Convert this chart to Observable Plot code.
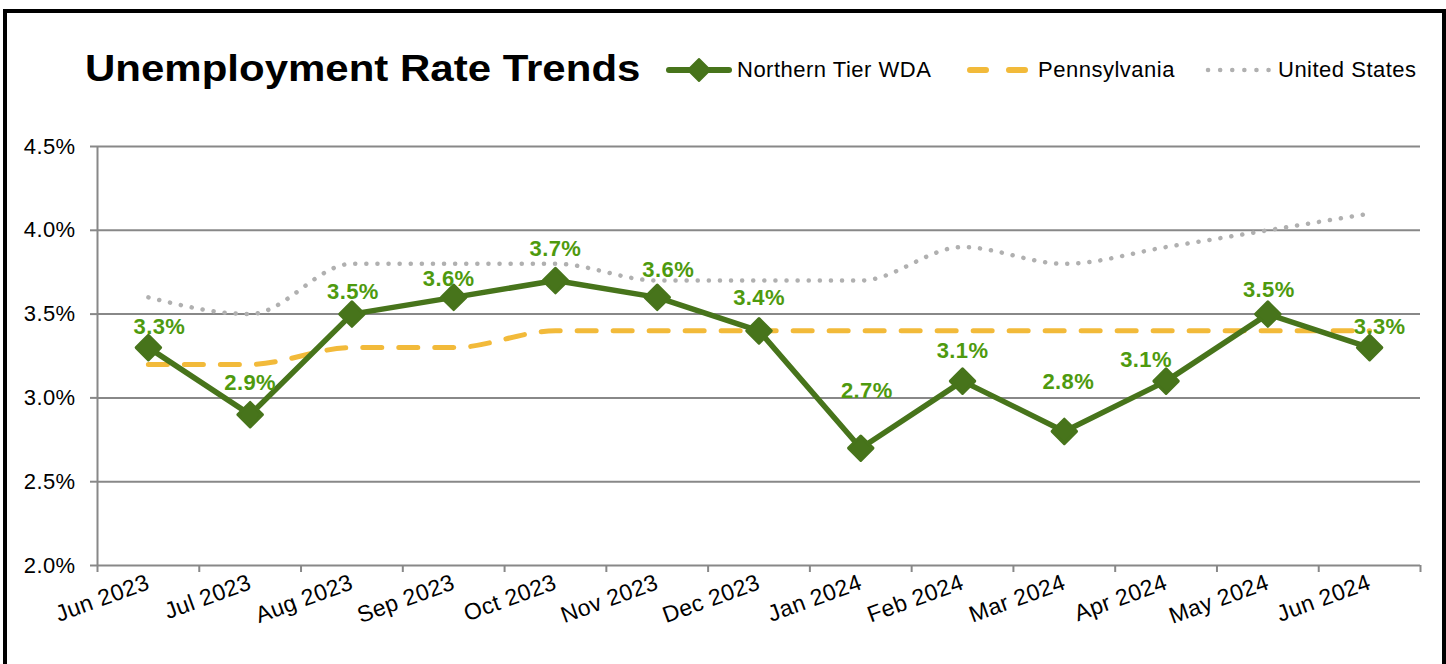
<!DOCTYPE html>
<html>
<head>
<meta charset="utf-8">
<script src="https://cdn.jsdelivr.net/npm/d3@7"></script>
<script src="https://cdn.jsdelivr.net/npm/@observablehq/plot@0.6"></script>
<style>
  html, body { margin: 0; padding: 0; background: #fff; width: 1446px; height: 664px; overflow: hidden; }
  body { font-family: "Liberation Sans", Arial, sans-serif; position: relative; }
  #frame { position: absolute; left: 3px; top: 9px; width: 1435px; height: 700px; border: 4px solid #000; box-sizing: content-box; }
  #title { position: absolute; left: 85px; top: 48px; font-size: 37px; line-height: 1.117; font-weight: bold; color: #000; white-space: nowrap; transform: scaleX(1.135); transform-origin: 0 0; }
  .lg-sw { position: absolute; top: 57px; }
  .lg-tx { position: absolute; top: 57px; font-size: 22px; line-height: 26px; color: #000; white-space: nowrap; letter-spacing: 0.5px; }
  #chart { position: absolute; left: 0; top: 120px; }
</style>
</head>
<body>
<div id="frame"></div>
<div id="title">Unemployment Rate Trends</div>
<div id="legend"></div>
<div id="chart"></div>
<script>
const months = ["Jun 2023","Jul 2023","Aug 2023","Sep 2023","Oct 2023","Nov 2023","Dec 2023","Jan 2024","Feb 2024","Mar 2024","Apr 2024","May 2024","Jun 2024"];
const northernTier = [3.3, 2.9, 3.5, 3.6, 3.7, 3.6, 3.4, 2.7, 3.1, 2.8, 3.1, 3.5, 3.3];
const pennsylvania = [3.2, 3.2, 3.3, 3.3, 3.4, 3.4, 3.4, 3.4, 3.4, 3.4, 3.4, 3.4, 3.4];
const unitedStates = [3.6, 3.5, 3.8, 3.8, 3.8, 3.7, 3.7, 3.7, 3.9, 3.8, 3.9, 4.0, 4.1];
const yTicks = [2.0, 2.5, 3.0, 3.5, 4.0, 4.5];
const seriesNames = ["Northern Tier WDA", "Pennsylvania", "United States"];

// label placement nudges (styling only, pixels)
const labelNudge = [[11,-21],[0,-32],[1,-22],[-5,-18],[0,-32],[11,-27],[0,-33],[6,-57],[0,-30],[4,-49],[-20,-21],[1,-24],[10,-21]];

const GREEN = "#47741b";
const LABEL_GREEN = "#4e9a0e";
const GOLD = "#f2ba3a";
const GRAYDOT = "#b0b0b0";
const GRID = "#888888";

const toRows = vals => vals.map((v, i) => ({pos: i + 0.5, month: months[i], v}));
const ntRows = toRows(northernTier);
const paRows = toRows(pennsylvania);
const usRows = toRows(unitedStates);
const centers = months.map((m, i) => i + 0.5);
const bounds = d3.range(months.length + 1);

const chart = Plot.plot({
  width: 1446,
  height: 544,
  marginLeft: 97,
  marginRight: 26,
  marginTop: 26,
  marginBottom: 99,
  style: {fontFamily: "'Liberation Sans', Arial, sans-serif", fontSize: "22px", background: "transparent", color: "#000", letterSpacing: "0.4px"},
  x: {type: "linear", domain: [0, months.length]},
  y: {domain: [2, 4.5]},
  marks: [
    Plot.ruleY(yTicks, {stroke: GRID, strokeWidth: 2}),
    Plot.ruleX([0], {y1: 2, y2: 4.5, stroke: GRID, strokeWidth: 2}),
    Plot.axisY(yTicks, {tickSize: 7, tickPadding: 15, stroke: GRID, strokeWidth: 2, tickFormat: d => d.toFixed(1) + "%", label: null, fontSize: 22}),
    Plot.axisX(bounds, {tickSize: 7, stroke: GRID, strokeWidth: 2, tickFormat: () => "", label: null}),
    Plot.axisX(centers, {tickSize: 0, tickPadding: 16, tickRotate: -20, tickFormat: d => months[Math.round(d - 0.5)], label: null, fontSize: 23, letterSpacing: "1.3px"}),
    Plot.line(usRows, {x: "pos", y: "v", stroke: GRAYDOT, strokeWidth: 4.5, strokeDasharray: "0.1 11", strokeLinecap: "round", curve: "monotone-x"}),
    Plot.line(paRows, {x: "pos", y: "v", stroke: GOLD, strokeWidth: 5, strokeDasharray: "19 17", strokeLinecap: "round", curve: "monotone-x"}),
    Plot.line(ntRows, {x: "pos", y: "v", stroke: GREEN, strokeWidth: 5.5, strokeLinejoin: "round"}),
    Plot.dot(ntRows, {x: "pos", y: "v", symbol: "diamond2", r: 11, fill: GREEN, stroke: GREEN, strokeWidth: 3, strokeLinejoin: "round"}),
    ...ntRows.map((d, i) => Plot.text([d], {x: "pos", y: "v", text: r => r.v.toFixed(1) + "%", dx: labelNudge[i][0], dy: labelNudge[i][1], fill: LABEL_GREEN, fontWeight: "bold", fontSize: 22, letterSpacing: "0.2px"}))
  ]
});
document.getElementById("chart").appendChild(chart);

// Legend
const swatches = [
  `<svg width="66" height="26"><line x1="3" y1="13" x2="63" y2="13" stroke="${GREEN}" stroke-width="6" stroke-linecap="round"/><path d="M33 2 L44 13 L33 24 L22 13 Z" fill="${GREEN}" stroke="${GREEN}" stroke-width="2" stroke-linejoin="round"/></svg>`,
  `<svg width="66" height="26"><line x1="3" y1="13" x2="62" y2="13" stroke="${GOLD}" stroke-width="6" stroke-linecap="round" stroke-dasharray="16 23"/></svg>`,
  `<svg width="66" height="26"><line x1="3" y1="13" x2="64" y2="13" stroke="${GRAYDOT}" stroke-width="4.5" stroke-linecap="round" stroke-dasharray="0.1 12"/></svg>`
];
const swX = [666, 967, 1205];
const txX = [737, 1038, 1278];
const legend = document.getElementById("legend");
seriesNames.forEach((name, i) => {
  const sw = document.createElement("div");
  sw.className = "lg-sw";
  sw.style.left = swX[i] + "px";
  sw.innerHTML = swatches[i];
  legend.appendChild(sw);
  const tx = document.createElement("div");
  tx.className = "lg-tx";
  tx.style.left = txX[i] + "px";
  tx.textContent = name;
  legend.appendChild(tx);
});
</script>
</body>
</html>
